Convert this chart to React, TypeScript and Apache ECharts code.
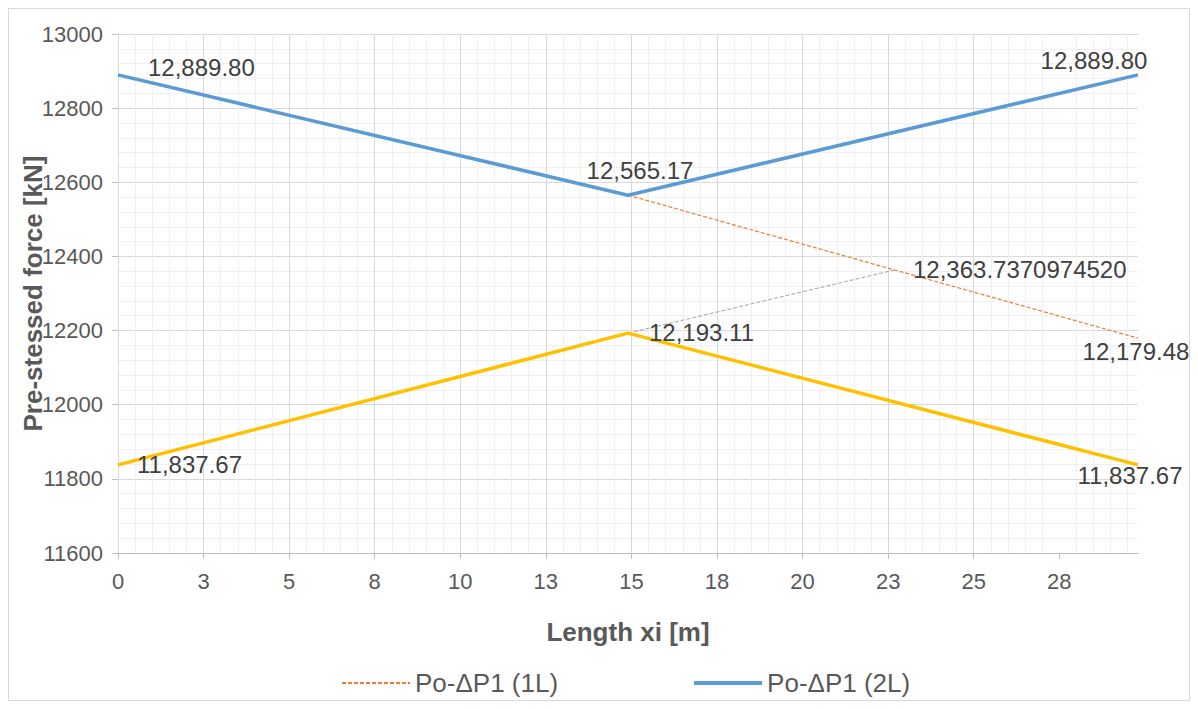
import React, { useEffect, useRef } from "react";
import * as echarts from "echarts";

// Stations along the girder [m]
const xStations = [0, 14.9, 29.8];
// Upper tendon force, two-end stressing (2L) [kN]
const force2L = [12889.8, 12565.17, 12889.8];
// Upper tendon force, one-end stressing (1L) [kN]
const stations1L = [14.9, 29.8];
const force1L = [12565.17, 12179.48];
// Lower tendon force [kN]
const forceLower = [11837.67, 12193.11, 11837.67];
// Projection of the lower peak onto the 1L curve
const stationsCross = [14.9, 22.7];
const forceCross = [12193.11, 12363.737097452];
const crossDecimals = 10;
// Major x tick positions [m]
const xTicks = [0, 2.5, 5, 7.5, 10, 12.5, 15, 17.5, 20, 22.5, 25, 27.5];

const FONT = "Liberation Sans, Arial, sans-serif";
const LABEL_COLOR = "#404040";
const AXIS_TEXT = "#595959";

function fmt(v: number, decimals = 2): string {
  const s = v.toFixed(decimals);
  const [i, d] = s.split(".");
  const withCommas = i.replace(/\B(?=(\d{3})+(?!\d))/g, ",");
  return d ? `${withCommas}.${d}` : withCommas;
}

type LabelPos = { pos: [number, number]; align: "left" | "center" | "right" };

function points(
  xs: number[],
  ys: number[],
  labels: (LabelPos | null)[],
  decimals = 2
) {
  return xs.map((x, i) => {
    const lp = labels[i];
    const item: any = { value: [x, ys[i]] };
    if (lp) {
      item.label = {
        show: true,
        position: lp.pos,
        align: lp.align,
        verticalAlign: "middle",
        formatter: fmt(ys[i], decimals),
        color: LABEL_COLOR,
        fontSize: 24,
        fontFamily: FONT,
      };
    }
    return item;
  });
}

export default function App() {
  const ref = useRef<HTMLDivElement>(null);

  useEffect(() => {
    if (!ref.current) return;
    const chart = echarts.init(ref.current, undefined, { renderer: "svg" });

    const hiddenSymbol = {
      symbol: "circle",
      symbolSize: 2,
      showSymbol: true,
      itemStyle: { color: "rgba(0,0,0,0)", borderWidth: 0 },
    };

    const option: any = {
      animation: false,
      backgroundColor: "#ffffff",
      textStyle: { fontFamily: FONT },
      graphic: [
        {
          type: "rect",
          shape: { x: 0.5, y: 0.5, width: 1181, height: 692 },
          style: { fill: "none", stroke: "#d9d9d9", lineWidth: 1 },
          silent: true,
        },
      ],
      grid: {
        left: 110,
        right: 52,
        top: 26,
        bottom: 148,
        containLabel: false,
        outerBoundsMode: "none",
      },
      legend: {
        left: 328,
        top: 657,
        itemWidth: 68,
        itemHeight: 14,
        itemGap: 134,
        data: [
          { name: "Po-ΔP1 (1L)" },
          { name: "Po-ΔP1 (2L)", lineStyle: { width: 4 } },
        ],
        textStyle: { color: AXIS_TEXT, fontSize: 26, fontFamily: FONT },
      },
      xAxis: [
        {
          type: "value",
          min: 0,
          max: xStations[xStations.length - 1],
          interval: 2.5,
          name: "Length xi [m]",
          nameLocation: "middle",
          nameGap: 66,
          nameMoveOverlap: false,
          nameTextStyle: {
            color: AXIS_TEXT,
            fontSize: 26,
            fontWeight: "bold",
            fontFamily: FONT,
          },
          axisLine: { show: true, lineStyle: { color: "#bfbfbf", width: 1 } },
          axisTick: {
            show: true,
            length: 6,
            customValues: xTicks,
            lineStyle: { color: "#bfbfbf" },
          },
          axisLabel: {
            customValues: xTicks,
            margin: 17,
            color: AXIS_TEXT,
            fontSize: 22,
            fontFamily: FONT,
            formatter: (v: number) => String(Math.round(v)),
          },
          splitLine: {
            show: true,
            showMaxLine: false,
            lineStyle: { color: "#d9d9d9", width: 1 },
          },
          z: 2,
        },
        {
          type: "value",
          position: "top",
          min: 0,
          max: xStations[xStations.length - 1],
          interval: 0.5,
          axisLine: { show: false },
          axisTick: { show: false },
          axisLabel: { show: false },
          splitLine: {
            show: true,
            lineStyle: {
              color: ["transparent", "#f0f0f0", "#f0f0f0", "#f0f0f0", "#f0f0f0"],
              width: 1,
            },
          },
          z: 1,
        },
      ],
      yAxis: {
        type: "value",
        min: 11600,
        max: 13000,
        interval: 200,
        name: "Pre-stessed force [kN]",
        nameLocation: "middle",
        nameGap: 72,
        nameMoveOverlap: false,
        nameTextStyle: {
          color: AXIS_TEXT,
          fontSize: 26,
          fontWeight: "bold",
          fontFamily: FONT,
        },
        axisLine: { show: true, lineStyle: { color: "#bfbfbf", width: 1 } },
        axisTick: { show: true, length: 6, lineStyle: { color: "#bfbfbf" } },
        axisLabel: {
          margin: 15,
          color: AXIS_TEXT,
          fontSize: 22,
          fontFamily: FONT,
          formatter: (v: number) => String(v),
        },
        splitLine: { show: true, lineStyle: { color: "#d9d9d9", width: 1 } },
        minorTick: { show: false, splitNumber: 5 },
        minorSplitLine: { show: true, lineStyle: { color: "#f0f0f0", width: 1 } },
      },
      series: [
        {
          name: "Po-ΔP1 (1L)",
          type: "line",
          ...hiddenSymbol,
          color: "#ED7D31",
          lineStyle: { color: "#ED7D31", width: 1.2, type: [4, 2] },
          data: points(stations1L, force1L, [
            null,
            { pos: [-1, 14], align: "center" },
          ]),
          z: 3,
        },
        {
          name: "Cross",
          type: "line",
          ...hiddenSymbol,
          color: "#A5A5A5",
          lineStyle: { color: "#A5A5A5", width: 1, type: [4, 2] },
          data: points(
            stationsCross,
            forceCross,
            [null, { pos: [19, 1], align: "left" }],
            crossDecimals
          ),
          z: 3,
        },
        {
          name: "Lower",
          type: "line",
          ...hiddenSymbol,
          color: "#FFC000",
          lineStyle: { color: "#FFC000", width: 3.5 },
          data: points(xStations, forceLower, [
            { pos: [20, 1], align: "left" },
            { pos: [22, 0], align: "left" },
            { pos: [-7, 12], align: "center" },
          ]),
          z: 4,
        },
        {
          name: "Po-ΔP1 (2L)",
          type: "line",
          ...hiddenSymbol,
          color: "#5B9BD5",
          lineStyle: { color: "#5B9BD5", width: 3.5 },
          data: points(xStations, force2L, [
            { pos: [31, -6], align: "left" },
            { pos: [13, -24], align: "center" },
            { pos: [-43, -13], align: "center" },
          ]),
          z: 4,
        },
      ],
    };

    chart.setOption(option);
    return () => chart.dispose();
  }, []);

  return <div ref={ref} style={{ width: 1182, height: 693 }} />;
}
